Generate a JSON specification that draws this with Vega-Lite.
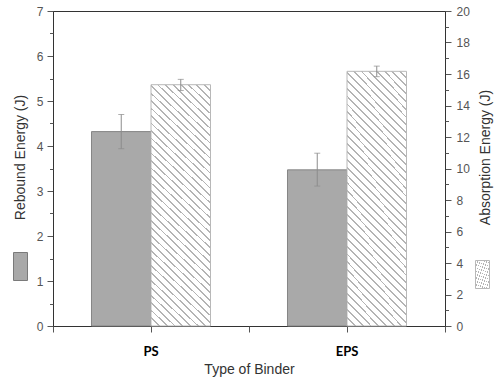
{
  "$schema": "https://vega.github.io/schema/vega-lite/v6.json",
  "autosize": "none",
  "width": 392,
  "height": 315,
  "padding": {"left": 53, "top": 11, "right": 55, "bottom": 52},
  "background": "white",
  "data": {
    "values": [
      {"binder": "PS", "measure": "Rebound", "value": 4.32, "lo": 3.94, "hi": 4.70},
      {"binder": "EPS", "measure": "Rebound", "value": 3.47, "lo": 3.11, "hi": 3.84},
      {"binder": "PS", "measure": "Absorption", "value": 15.32, "lo": 14.95, "hi": 15.66},
      {"binder": "EPS", "measure": "Absorption", "value": 16.17, "lo": 15.83, "hi": 16.5}
    ]
  },
  "config": {
    "view": {"stroke": "#333333", "strokeWidth": 1},
    "axis": {
      "grid": false,
      "domainColor": "#333333",
      "tickColor": "#555555",
      "labelColor": "#555555",
      "labelFont": "Liberation Sans",
      "labelFontSize": 12,
      "labelOverlap": false,
      "titleFont": "Liberation Sans",
      "titleFontSize": 14,
      "titleFontWeight": "normal",
      "titleColor": "#333333"
    }
  },
  "layer": [
    {
      "transform": [{"filter": "datum.measure == 'Rebound'"}],
      "encoding": {
        "x": {
          "field": "binder", "type": "nominal",
          "scale": {"domain": ["PS", "EPS"], "paddingInner": 0, "paddingOuter": 0},
          "axis": {
            "orient": "bottom",
            "title": "Type of Binder", "labelAngle": 0, "tickSize": 6, "labelPadding": 13,
            "labelFont": "Lato", "labelFontWeight": "bold", "labelFontSize": 13, "labelColor": "#000000",
            "titlePadding": 4, "tickColor": "#555555"
          }
        },
        "xOffset": {
          "field": "measure", "type": "nominal",
          "scale": {"domain": ["Rebound", "Absorption"], "paddingInner": 0, "paddingOuter": 0.647}
        }
      },
      "layer": [
        {
          "mark": {"type": "bar", "stroke": "#858585", "strokeWidth": 1},
          "encoding": {
            "y": {
              "field": "value", "type": "quantitative",
              "scale": {"domain": [0, 7], "nice": false},
              "axis": {
                "orient": "left",
                "title": "Rebound Energy (J)",
                "values": [0, 1, 2, 3, 4, 5, 6, 7],
                "labelOverlap": false,
                "tickSize": 6,
                "labelPadding": 4,
                "titleX": -33, "titleY": 146, "titleAngle": 270, "titleAlign": "center", "titleBaseline": "middle"
              }
            },
            "fill": {
              "datum": "Rebound Energy",
              "scale": {"range": ["#a9a9a9"]},
              "legend": {
                "orient": "none", "legendX": -47, "legendY": 241, "title": null, "padding": 0,
                "labelExpr": "''", "labelOffset": 0,
                "symbolType": "M-0.5,-1H0.5V1H-0.5Z", "symbolSize": 784,
                "symbolStrokeColor": "#7a7a7a", "symbolStrokeWidth": 1, "symbolOpacity": 1
              }
            }
          }
        },
        {
          "mark": {"type": "rule", "color": "#8c8c8c", "strokeWidth": 1},
          "encoding": {
            "y": {
              "field": "lo", "type": "quantitative",
              "axis": {"orient": "left", "values": [0.5, 1.5, 2.5, 3.5, 4.5, 5.5, 6.5], "labels": false, "domain": false, "tickSize": 3.5, "title": null}
            },
            "y2": {"field": "hi"}
          }
        },
        {
          "mark": {"type": "tick", "color": "#8c8c8c", "size": 6, "thickness": 1},
          "encoding": {"y": {"field": "lo", "type": "quantitative", "axis": null}}
        },
        {
          "mark": {"type": "tick", "color": "#8c8c8c", "size": 6, "thickness": 1},
          "encoding": {"y": {"field": "hi", "type": "quantitative", "axis": null}}
        }
      ],
      "resolve": {"axis": {"y": "independent"}}
    },
    {
      "transform": [{"filter": "datum.measure == 'Absorption'"}],
      "encoding": {
        "x": {
          "field": "binder", "type": "nominal",
          "scale": {"domain": ["PS", "EPS"], "paddingInner": 0, "paddingOuter": 0},
          "axis": {"orient": "bottom", "title": null, "labels": false, "domain": false, "tickBand": "extent", "tickSize": 6}
        },
        "xOffset": {
          "field": "measure", "type": "nominal",
          "scale": {"domain": ["Rebound", "Absorption"], "paddingInner": 0, "paddingOuter": 0.647}
        }
      },
      "layer": [
        {
          "mark": {
            "type": "bar", "strokeWidth": 1,
            "fill": {
              "gradient": "linear", "x1": 0, "y1": 1, "x2": 0.281, "y2": -0.173,
              "stops": [
                {"offset": 0, "color": "#b4b4b4"}, {"offset": 0.006, "color": "#b4b4b4"}, {"offset": 0.006, "color": "#ffffff"}, {"offset": 0.025, "color": "#ffffff"},
                {"offset": 0.025, "color": "#b4b4b4"}, {"offset": 0.031, "color": "#b4b4b4"}, {"offset": 0.031, "color": "#ffffff"}, {"offset": 0.05, "color": "#ffffff"},
                {"offset": 0.05, "color": "#b4b4b4"}, {"offset": 0.056, "color": "#b4b4b4"}, {"offset": 0.056, "color": "#ffffff"}, {"offset": 0.075, "color": "#ffffff"},
                {"offset": 0.075, "color": "#b4b4b4"}, {"offset": 0.081, "color": "#b4b4b4"}, {"offset": 0.081, "color": "#ffffff"}, {"offset": 0.1, "color": "#ffffff"},
                {"offset": 0.1, "color": "#b4b4b4"}, {"offset": 0.106, "color": "#b4b4b4"}, {"offset": 0.106, "color": "#ffffff"}, {"offset": 0.125, "color": "#ffffff"},
                {"offset": 0.125, "color": "#b4b4b4"}, {"offset": 0.131, "color": "#b4b4b4"}, {"offset": 0.131, "color": "#ffffff"}, {"offset": 0.15, "color": "#ffffff"},
                {"offset": 0.15, "color": "#b4b4b4"}, {"offset": 0.156, "color": "#b4b4b4"}, {"offset": 0.156, "color": "#ffffff"}, {"offset": 0.175, "color": "#ffffff"},
                {"offset": 0.175, "color": "#b4b4b4"}, {"offset": 0.181, "color": "#b4b4b4"}, {"offset": 0.181, "color": "#ffffff"}, {"offset": 0.2, "color": "#ffffff"},
                {"offset": 0.2, "color": "#b4b4b4"}, {"offset": 0.206, "color": "#b4b4b4"}, {"offset": 0.206, "color": "#ffffff"}, {"offset": 0.225, "color": "#ffffff"},
                {"offset": 0.225, "color": "#b4b4b4"}, {"offset": 0.231, "color": "#b4b4b4"}, {"offset": 0.231, "color": "#ffffff"}, {"offset": 0.25, "color": "#ffffff"},
                {"offset": 0.25, "color": "#b4b4b4"}, {"offset": 0.256, "color": "#b4b4b4"}, {"offset": 0.256, "color": "#ffffff"}, {"offset": 0.275, "color": "#ffffff"},
                {"offset": 0.275, "color": "#b4b4b4"}, {"offset": 0.281, "color": "#b4b4b4"}, {"offset": 0.281, "color": "#ffffff"}, {"offset": 0.3, "color": "#ffffff"},
                {"offset": 0.3, "color": "#b4b4b4"}, {"offset": 0.306, "color": "#b4b4b4"}, {"offset": 0.306, "color": "#ffffff"}, {"offset": 0.325, "color": "#ffffff"},
                {"offset": 0.325, "color": "#b4b4b4"}, {"offset": 0.331, "color": "#b4b4b4"}, {"offset": 0.331, "color": "#ffffff"}, {"offset": 0.35, "color": "#ffffff"},
                {"offset": 0.35, "color": "#b4b4b4"}, {"offset": 0.356, "color": "#b4b4b4"}, {"offset": 0.356, "color": "#ffffff"}, {"offset": 0.375, "color": "#ffffff"},
                {"offset": 0.375, "color": "#b4b4b4"}, {"offset": 0.381, "color": "#b4b4b4"}, {"offset": 0.381, "color": "#ffffff"}, {"offset": 0.4, "color": "#ffffff"},
                {"offset": 0.4, "color": "#b4b4b4"}, {"offset": 0.406, "color": "#b4b4b4"}, {"offset": 0.406, "color": "#ffffff"}, {"offset": 0.425, "color": "#ffffff"},
                {"offset": 0.425, "color": "#b4b4b4"}, {"offset": 0.431, "color": "#b4b4b4"}, {"offset": 0.431, "color": "#ffffff"}, {"offset": 0.45, "color": "#ffffff"},
                {"offset": 0.45, "color": "#b4b4b4"}, {"offset": 0.456, "color": "#b4b4b4"}, {"offset": 0.456, "color": "#ffffff"}, {"offset": 0.475, "color": "#ffffff"},
                {"offset": 0.475, "color": "#b4b4b4"}, {"offset": 0.481, "color": "#b4b4b4"}, {"offset": 0.481, "color": "#ffffff"}, {"offset": 0.5, "color": "#ffffff"},
                {"offset": 0.5, "color": "#b4b4b4"}, {"offset": 0.506, "color": "#b4b4b4"}, {"offset": 0.506, "color": "#ffffff"}, {"offset": 0.525, "color": "#ffffff"},
                {"offset": 0.525, "color": "#b4b4b4"}, {"offset": 0.531, "color": "#b4b4b4"}, {"offset": 0.531, "color": "#ffffff"}, {"offset": 0.55, "color": "#ffffff"},
                {"offset": 0.55, "color": "#b4b4b4"}, {"offset": 0.556, "color": "#b4b4b4"}, {"offset": 0.556, "color": "#ffffff"}, {"offset": 0.575, "color": "#ffffff"},
                {"offset": 0.575, "color": "#b4b4b4"}, {"offset": 0.581, "color": "#b4b4b4"}, {"offset": 0.581, "color": "#ffffff"}, {"offset": 0.6, "color": "#ffffff"},
                {"offset": 0.6, "color": "#b4b4b4"}, {"offset": 0.606, "color": "#b4b4b4"}, {"offset": 0.606, "color": "#ffffff"}, {"offset": 0.625, "color": "#ffffff"},
                {"offset": 0.625, "color": "#b4b4b4"}, {"offset": 0.631, "color": "#b4b4b4"}, {"offset": 0.631, "color": "#ffffff"}, {"offset": 0.65, "color": "#ffffff"},
                {"offset": 0.65, "color": "#b4b4b4"}, {"offset": 0.656, "color": "#b4b4b4"}, {"offset": 0.656, "color": "#ffffff"}, {"offset": 0.675, "color": "#ffffff"},
                {"offset": 0.675, "color": "#b4b4b4"}, {"offset": 0.681, "color": "#b4b4b4"}, {"offset": 0.681, "color": "#ffffff"}, {"offset": 0.7, "color": "#ffffff"},
                {"offset": 0.7, "color": "#b4b4b4"}, {"offset": 0.706, "color": "#b4b4b4"}, {"offset": 0.706, "color": "#ffffff"}, {"offset": 0.725, "color": "#ffffff"},
                {"offset": 0.725, "color": "#b4b4b4"}, {"offset": 0.731, "color": "#b4b4b4"}, {"offset": 0.731, "color": "#ffffff"}, {"offset": 0.75, "color": "#ffffff"},
                {"offset": 0.75, "color": "#b4b4b4"}, {"offset": 0.756, "color": "#b4b4b4"}, {"offset": 0.756, "color": "#ffffff"}, {"offset": 0.775, "color": "#ffffff"},
                {"offset": 0.775, "color": "#b4b4b4"}, {"offset": 0.781, "color": "#b4b4b4"}, {"offset": 0.781, "color": "#ffffff"}, {"offset": 0.8, "color": "#ffffff"},
                {"offset": 0.8, "color": "#b4b4b4"}, {"offset": 0.806, "color": "#b4b4b4"}, {"offset": 0.806, "color": "#ffffff"}, {"offset": 0.825, "color": "#ffffff"},
                {"offset": 0.825, "color": "#b4b4b4"}, {"offset": 0.831, "color": "#b4b4b4"}, {"offset": 0.831, "color": "#ffffff"}, {"offset": 0.85, "color": "#ffffff"},
                {"offset": 0.85, "color": "#b4b4b4"}, {"offset": 0.856, "color": "#b4b4b4"}, {"offset": 0.856, "color": "#ffffff"}, {"offset": 0.875, "color": "#ffffff"},
                {"offset": 0.875, "color": "#b4b4b4"}, {"offset": 0.881, "color": "#b4b4b4"}, {"offset": 0.881, "color": "#ffffff"}, {"offset": 0.9, "color": "#ffffff"},
                {"offset": 0.9, "color": "#b4b4b4"}, {"offset": 0.906, "color": "#b4b4b4"}, {"offset": 0.906, "color": "#ffffff"}, {"offset": 0.925, "color": "#ffffff"},
                {"offset": 0.925, "color": "#b4b4b4"}, {"offset": 0.931, "color": "#b4b4b4"}, {"offset": 0.931, "color": "#ffffff"}, {"offset": 0.95, "color": "#ffffff"},
                {"offset": 0.95, "color": "#b4b4b4"}, {"offset": 0.956, "color": "#b4b4b4"}, {"offset": 0.956, "color": "#ffffff"}, {"offset": 0.975, "color": "#ffffff"},
                {"offset": 0.975, "color": "#b4b4b4"}, {"offset": 0.981, "color": "#b4b4b4"}, {"offset": 0.981, "color": "#ffffff"}, {"offset": 1, "color": "#ffffff"}
              ]
            }
          },
          "encoding": {
            "y": {
              "field": "value", "type": "quantitative",
              "scale": {"domain": [0, 20], "nice": false},
              "axis": {
                "orient": "right",
                "title": "Absorption Energy (J)",
                "values": [0, 2, 4, 6, 8, 10, 12, 14, 16, 18, 20],
                "labelOverlap": false,
                "tickSize": 6,
                "labelPadding": 5,
                "titleX": 40, "titleY": 146, "titleAngle": 270, "titleAlign": "center", "titleBaseline": "middle"
              }
            },
            "stroke": {
              "datum": "Absorption Energy",
              "scale": {"range": ["#b8b8b8"]},
              "legend": {
                "orient": "none", "legendX": 415, "legendY": 249, "title": null, "padding": 0,
                "labelExpr": "''", "labelOffset": 0,
                "symbolType": "M-0.5,-1H0.5V1H-0.5Z", "symbolSize": 784,
                "symbolStrokeColor": "#b0b0b0", "symbolStrokeWidth": 1, "symbolOpacity": 1,
                "encode": {
                  "symbols": {
                    "update": {
                      "fill": {
                        "value": {
                          "gradient": "linear", "x1": 0, "y1": 1, "x2": 0.6, "y2": -0.2,
                          "stops": [
                            {"offset": 0, "color": "#b4b4b4"}, {"offset": 0.04, "color": "#b4b4b4"}, {"offset": 0.04, "color": "#ffffff"}, {"offset": 0.2, "color": "#ffffff"},
                            {"offset": 0.2, "color": "#b4b4b4"}, {"offset": 0.24, "color": "#b4b4b4"}, {"offset": 0.24, "color": "#ffffff"}, {"offset": 0.4, "color": "#ffffff"},
                            {"offset": 0.4, "color": "#b4b4b4"}, {"offset": 0.44, "color": "#b4b4b4"}, {"offset": 0.44, "color": "#ffffff"}, {"offset": 0.6, "color": "#ffffff"},
                            {"offset": 0.6, "color": "#b4b4b4"}, {"offset": 0.64, "color": "#b4b4b4"}, {"offset": 0.64, "color": "#ffffff"}, {"offset": 0.8, "color": "#ffffff"},
                            {"offset": 0.8, "color": "#b4b4b4"}, {"offset": 0.84, "color": "#b4b4b4"}, {"offset": 0.84, "color": "#ffffff"}, {"offset": 1, "color": "#ffffff"}
                          ]
                        }
                      },
                      "stroke": {"value": "#b0b0b0"}
                    }
                  }
                }
              }
            }
          }
        },
        {
          "mark": {"type": "rule", "color": "#8c8c8c", "strokeWidth": 1},
          "encoding": {
            "y": {
              "field": "lo", "type": "quantitative",
              "axis": {"orient": "right", "values": [1, 3, 5, 7, 9, 11, 13, 15, 17, 19], "labels": false, "domain": false, "tickSize": 3.5, "title": null}
            },
            "y2": {"field": "hi"}
          }
        },
        {
          "mark": {"type": "tick", "color": "#8c8c8c", "size": 6, "thickness": 1},
          "encoding": {"y": {"field": "lo", "type": "quantitative", "axis": null}}
        },
        {
          "mark": {"type": "tick", "color": "#8c8c8c", "size": 6, "thickness": 1},
          "encoding": {"y": {"field": "hi", "type": "quantitative", "axis": null}}
        }
      ],
      "resolve": {"axis": {"y": "independent"}}
    }
  ],
  "resolve": {"scale": {"y": "independent"}, "axis": {"x": "independent"}}
}
